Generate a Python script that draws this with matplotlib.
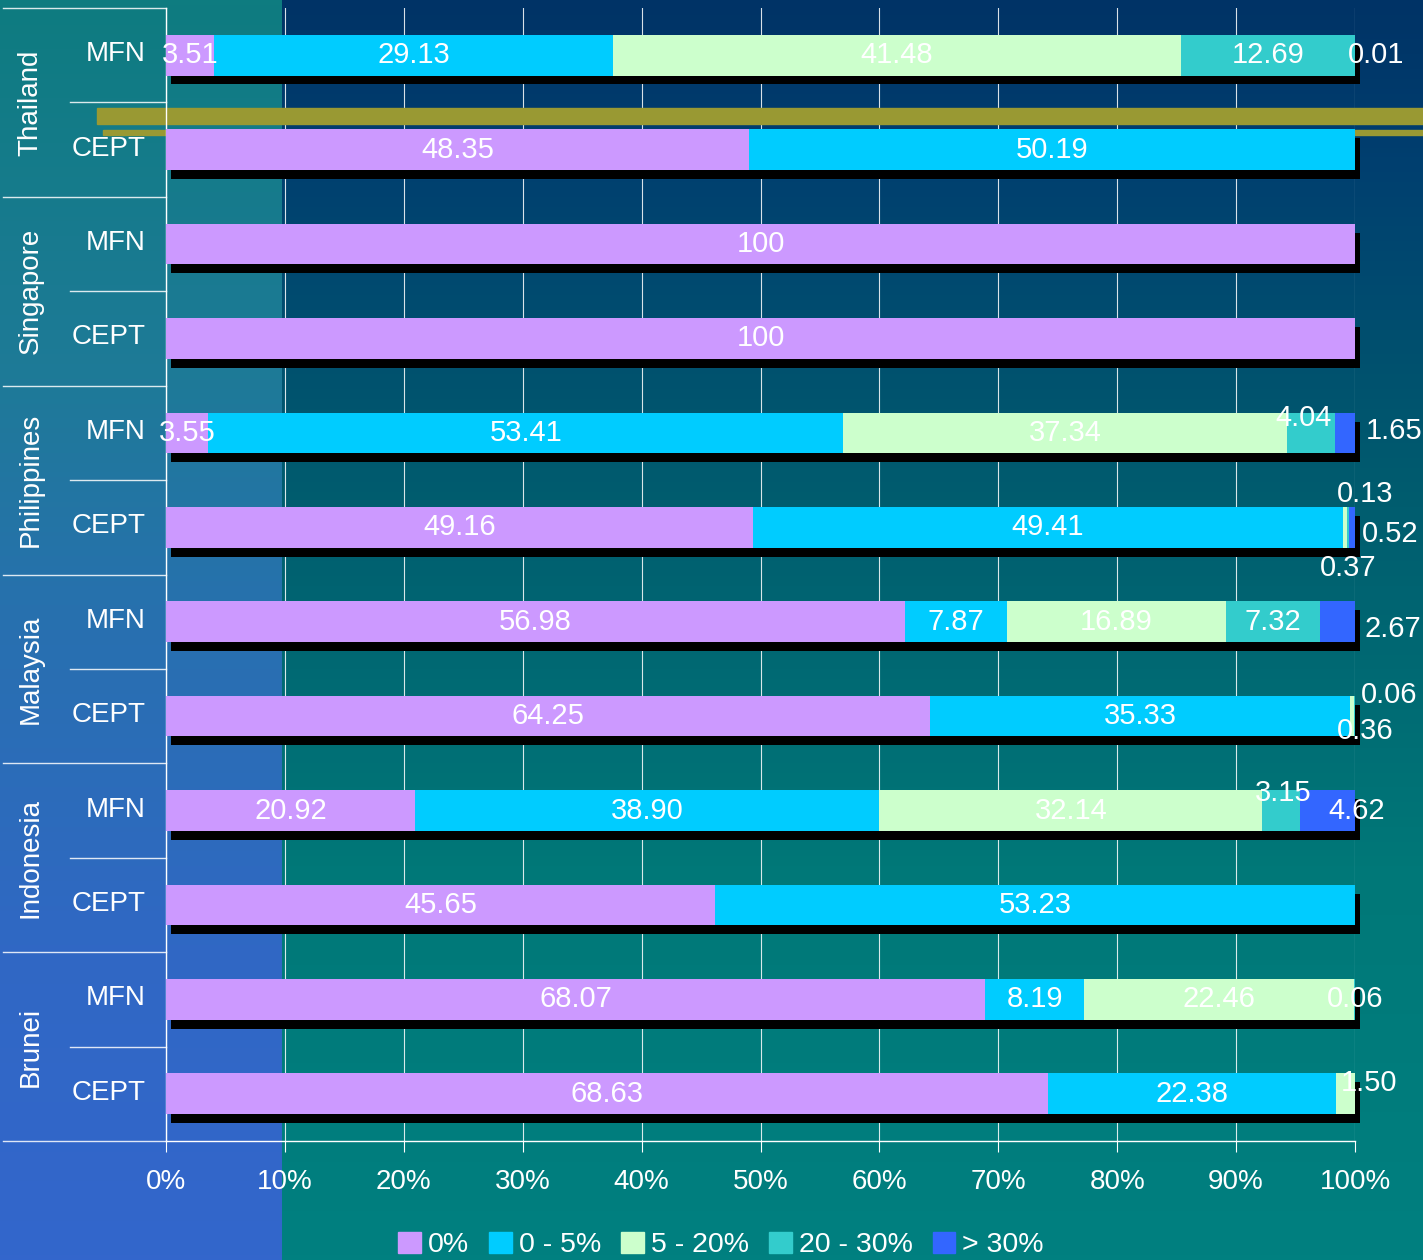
import numpy as np
import matplotlib
matplotlib.use('Agg')
import matplotlib.pyplot as plt
import matplotlib.transforms as mtransforms
from matplotlib.colors import LinearSegmentedColormap
from matplotlib.patches import Rectangle

plt.rcParams['font.family'] = ['Liberation Sans', 'DejaVu Sans']

countries = ['Thailand', 'Singapore', 'Philippines', 'Malaysia', 'Indonesia', 'Brunei']
schemes = ['MFN', 'CEPT']
bands = ['0%', '0 - 5%', '5 - 20%', '20 - 30%', '> 30%']

# one value per row, rows go Thailand MFN, Thailand CEPT, Singapore MFN, ...
zero = [3.51, 48.35, 100, 100, 3.55, 49.16, 56.98, 64.25, 20.92, 45.65, 68.07, 68.63]
low = [29.13, 50.19, 0, 0, 53.41, 49.41, 7.87, 35.33, 38.90, 53.23, 8.19, 22.38]
mid = [41.48, 0, 0, 0, 37.34, 0.37, 16.89, 0.36, 32.14, 0, 22.46, 1.50]
high = [12.69, 0, 0, 0, 4.04, 0.13, 7.32, 0.06, 3.15, 0, 0.06, 0]
top = [0.01, 0, 0, 0, 1.65, 0.52, 2.67, 0, 4.62, 0, 0, 0]

colors = ['#cc99ff', '#00ccff', '#ccffcc', '#33cccc', '#3366ff']

# label nudges in pixels (row, band) -> (dx, dy), for the small slices
nudge = {
    (0, 4): (21, 0),
    (4, 3): (-8, -15), (4, 4): (49, -2),
    (5, 2): (3, 41), (5, 3): (17, -33), (5, 4): (38, 7),
    (6, 4): (55, 7),
    (7, 2): (13, 15), (7, 3): (34, -21),
    (8, 3): (2, -18), (8, 4): (29, 0),
    (10, 3): (0, 0),
    (11, 2): (24, -11),
}

W, H = 1423, 1260
fig = plt.figure(figsize=(W / 100, H / 100), dpi=100)

# background gradients
bg = fig.add_axes([0, 0, 1, 1], zorder=-10)
bg.set_axis_off()
grad = np.linspace(0, 1, 256).reshape(-1, 1)
left_cmap = LinearSegmentedColormap.from_list('l', [(0, '#0e7c80'), (0.3, '#1e7a98'), (0.5, '#2870b0'),
                                                    (0.75, '#3068c4'), (1, '#3366cc')])
right_cmap = LinearSegmentedColormap.from_list('r', [(0, '#003366'), (0.135, '#004070'), (0.37, '#005a6e'),
                                                     (0.69, '#007878'), (1, '#008080')])
bg.imshow(grad, cmap=left_cmap, extent=[0, 282 / W, 0, 1], aspect='auto')
bg.imshow(grad, cmap=right_cmap, extent=[282 / W, 1, 0, 1], aspect='auto')
bg.set_xlim(0, 1)
bg.set_ylim(0, 1)

ax = fig.add_axes([166 / W, 1 - 1141 / H, 1189 / W, 1133 / H])
ax.patch.set_visible(False)

data = np.array([zero, low, mid, high, top])
pct = data / data.sum(axis=0) * 100
y = np.arange(len(zero))
bh = 0.43

# shadows
shadow = ax.barh(y + 0.095, 100, left=0.42, height=bh, color='black', zorder=2.5)
for p in shadow:
    p.set_clip_on(False)

left = np.zeros(len(y))
for b in range(len(bands)):
    ax.barh(y, pct[b], left=left, height=bh, color=colors[b], label=bands[b], zorder=3)
    for r in range(len(y)):
        v = data[b][r]
        if v <= 0:
            continue
        txt = '%d' % v if v == int(v) else '%.2f' % v
        dx, dy = nudge.get((r, b), (0, 0))
        ax.annotate(txt, xy=(left[r] + pct[b][r] / 2, y[r]), xytext=(dx * 0.72, -dy * 0.72),
                    textcoords='offset points', ha='center', va='center', color='white',
                    fontsize=21, zorder=5, annotation_clip=False)
    left += pct[b]

# olive bands
ax.add_patch(Rectangle((97 / W, 1 - 124 / H), 1, 16 / H, transform=fig.transFigure,
                       color='#999933', clip_on=False, zorder=2))
ax.add_patch(Rectangle((103 / W, 1 - 135 / H), 1, 5 / H, transform=fig.transFigure,
                       color='#999933', clip_on=False, zorder=2))

ax.set_xlim(0, 100)
ax.set_ylim(11.5, -0.5)
ax.set_xticks(range(0, 101, 10))
ax.set_xticklabels(['%d%%' % t for t in range(0, 101, 10)])
ax.tick_params(axis='x', colors='white', labelsize=20, length=8, width=0.8, pad=12)
ax.set_yticks(y)
ax.set_yticklabels(schemes * len(countries))
ax.tick_params(axis='y', length=0, pad=15, labelsize=20, labelcolor='white')
up = mtransforms.ScaledTranslation(0, 4 / 100, fig.dpi_scale_trans)
for lab in ax.get_yticklabels():
    lab.set_transform(lab.get_transform() + up)
ax.set_axisbelow(True)
ax.grid(axis='x', color='white', lw=0.8, alpha=0.85)
for s in ['top', 'right']:
    ax.spines[s].set_visible(False)
for s in ['left', 'bottom']:
    ax.spines[s].set_color('white')
    ax.spines[s].set_linewidth(1)

# category dividers and country names
tr = ax.get_yaxis_transform()
for i in range(len(countries) + 1):
    ax.plot([-0.137, 0], [2 * i - 0.5] * 2, color='white', lw=1, alpha=0.85, transform=tr, clip_on=False)
for i, c in enumerate(countries):
    ax.plot([-0.0807, 0], [2 * i + 0.5] * 2, color='white', lw=1, alpha=0.85, transform=tr, clip_on=False)
    ax.text(-0.114, 2 * i + 0.5, c, rotation=90, ha='center', va='center', color='white',
            fontsize=20, transform=tr)

handles = [Rectangle((0, 0), 1, 1, color=c) for c in colors]
fig.legend(handles, bands, loc='center', bbox_to_anchor=(721 / W, 1 - 1245 / H), ncol=5, frameon=False,
           fontsize=20.5, labelcolor='white', handlelength=0.8, handleheight=0.8, handletextpad=0.25,
           columnspacing=0.7)

fig.savefig('out.png', dpi=100)
